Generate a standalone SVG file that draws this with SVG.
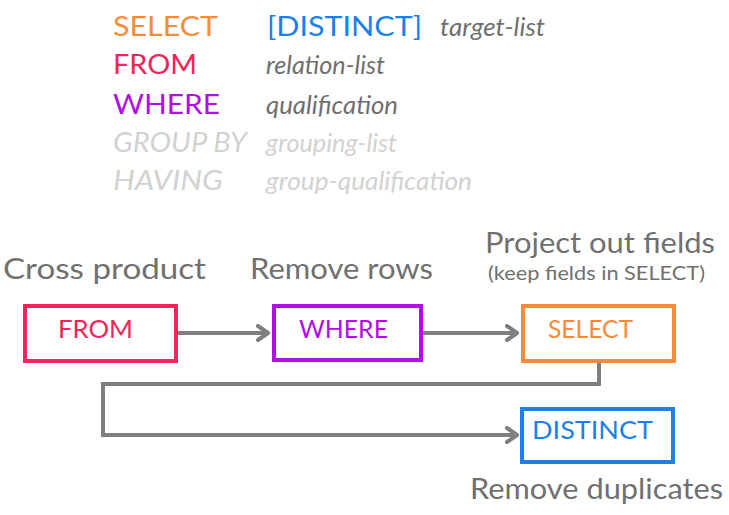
<svg xmlns="http://www.w3.org/2000/svg" width="729" height="515" viewBox="0 0 729 515">
  <style>
    text { font-family: Lato, "Open Sans", "Liberation Sans", sans-serif; }
    .kw { font-size: 27px; }
    .it { font-size: 26px; font-style: italic; fill: #6f6f6f; }
    .dim { fill: #d2d2d2; }
    .lbl { font-size: 28px; fill: #707070; }
    .box { fill: #ffffff; stroke-width: 4; }
    .btxt { font-size: 25px; }
    .conn { fill: none; stroke: #7f7f7f; stroke-width: 4; }
  </style>
  <defs>
    <marker id="chev" viewBox="0 0 14 18" refX="12" refY="9" markerWidth="14" markerHeight="18" markerUnits="userSpaceOnUse" orient="auto">
      <path d="M2,2 L12,9 L2,16" fill="none" stroke="#7f7f7f" stroke-width="4" stroke-linecap="round" stroke-linejoin="round"/>
    </marker>
  </defs>
  <rect width="729" height="515" fill="#ffffff"/>

  <g id="sql-syntax">
    <text class="kw" x="113" y="36" fill="#f88a3b" textLength="105" lengthAdjust="spacingAndGlyphs">SELECT</text>
    <text class="kw" x="267" y="36" fill="#1d80ea" textLength="155" lengthAdjust="spacingAndGlyphs">[DISTINCT]</text>
    <text class="it" x="440" y="36" textLength="105" lengthAdjust="spacingAndGlyphs">target-list</text>
    <text class="kw" x="113" y="74" fill="#f0235a" textLength="84" lengthAdjust="spacingAndGlyphs">FROM</text>
    <text class="it" x="266" y="74" textLength="119" lengthAdjust="spacingAndGlyphs">relation-list</text>
    <text class="kw" x="113" y="114" fill="#b00fe6" textLength="107" lengthAdjust="spacingAndGlyphs">WHERE</text>
    <text class="it" x="266" y="114" textLength="132" lengthAdjust="spacingAndGlyphs">qualification</text>
    <text class="kw dim" x="113" y="152" font-style="italic" textLength="134" lengthAdjust="spacingAndGlyphs">GROUP BY</text>
    <text class="it dim" x="266" y="152" textLength="131" lengthAdjust="spacingAndGlyphs">grouping-list</text>
    <text class="kw dim" x="113" y="190" font-style="italic" textLength="110" lengthAdjust="spacingAndGlyphs">HAVING</text>
    <text class="it dim" x="266" y="190" textLength="206" lengthAdjust="spacingAndGlyphs">group-qualification</text>
  </g>

  <g id="label-cross-product">
    <text class="lbl" x="3" y="279" textLength="203" lengthAdjust="spacingAndGlyphs">Cross product</text>
  </g>
  <g id="label-remove-rows">
    <text class="lbl" x="250" y="279" textLength="183" lengthAdjust="spacingAndGlyphs">Remove rows</text>
  </g>
  <g id="label-project">
    <text class="lbl" x="485" y="253" textLength="230" lengthAdjust="spacingAndGlyphs">Project out fields</text>
    <text x="488" y="280" font-size="19" fill="#707070" textLength="217" lengthAdjust="spacingAndGlyphs">(keep fields in SELECT)</text>
  </g>
  <g id="label-remove-duplicates">
    <text class="lbl" x="470" y="499" font-size="24" textLength="253" lengthAdjust="spacingAndGlyphs">Remove duplicates</text>
  </g>

  <g id="node-from">
    <rect class="box" x="25" y="306" width="151" height="55" stroke="#f0235a"/>
    <text class="btxt" x="58" y="338" fill="#f0235a" textLength="75" lengthAdjust="spacingAndGlyphs">FROM</text>
  </g>
  <g id="node-where">
    <rect class="box" x="274" y="306" width="147" height="54" stroke="#b00fe6"/>
    <text class="btxt" x="299" y="338" fill="#b00fe6" textLength="89" lengthAdjust="spacingAndGlyphs">WHERE</text>
  </g>
  <g id="node-select">
    <rect class="box" x="523" y="306" width="151" height="55" stroke="#f88a3b"/>
    <text class="btxt" x="548" y="338" fill="#f88a3b" textLength="85" lengthAdjust="spacingAndGlyphs">SELECT</text>
  </g>
  <g id="node-distinct">
    <rect class="box" x="522" y="409" width="151" height="53" stroke="#1d80ea"/>
    <text class="btxt" x="532" y="439" fill="#1d80ea" textLength="121" lengthAdjust="spacingAndGlyphs">DISTINCT</text>
  </g>

  <g id="connectors">
    <path class="conn" d="M178,333 H268" marker-end="url(#chev)"/>
    <path class="conn" d="M423,333 H517" marker-end="url(#chev)"/>
    <path class="conn" d="M599,363 V384 H103 V435 H517" marker-end="url(#chev)"/>
  </g>
</svg>
